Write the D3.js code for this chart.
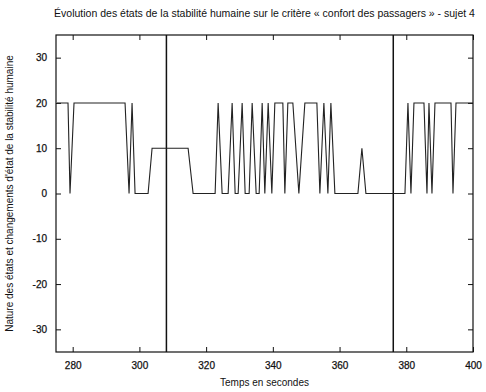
<!DOCTYPE html>
<html>
<head>
<meta charset="utf-8">
<script src="https://cdn.jsdelivr.net/npm/d3@7"></script>
<style>
  body { margin: 0; background: #fff; }
  text { font-family: "Liberation Sans", Arial, sans-serif; fill: #111; }
</style>
</head>
<body>
<script>
// temps (s) et etat de stabilite
var times = [275.3, 278.6, 279.2, 280.4, 295.7, 296.9, 297.8, 298.7, 302.6, 303.8,
             314.6, 316.1, 322.7, 323.6, 324.8, 326.6, 327.8, 328.7, 329.6, 330.8,
             331.7, 332.9, 333.8, 335.0, 335.9, 336.8, 337.6, 338.6, 339.7, 340.6,
             343.0, 343.6, 344.5, 346.0, 347.8, 349.6, 353.2, 354.1, 355.3, 356.5,
             357.4, 358.6, 365.5, 366.7, 367.9, 379.6, 380.5, 381.4, 382.3, 385.3,
             386.2, 386.8, 387.7, 388.6, 393.4, 394.0, 394.9, 400.0];
var states = [20, 20, 0, 20, 20, 0, 20, 0, 0, 10,
              10, 0, 0, 20, 0, 0, 20, 0, 0, 20,
              0, 0, 20, 0, 0, 20, 0, 20, 0, 20,
              20, 0, 20, 20, 0, 20, 20, 0, 20, 0,
              20, 0, 0, 10, 0, 0, 20, 0, 20, 20,
              0, 20, 0, 20, 20, 0, 20, 20];
var markers = [308.1, 376.1];
var xTicks = [280, 300, 320, 340, 360, 380, 400];
var yTicks = [-30, -20, -10, 0, 10, 20, 30];

var width = 486, height = 392;
var plotLeft = 56, plotRight = 473, plotTop = 35, plotBottom = 352;

var svg = d3.select('body').append('svg')
  .attr('width', width)
  .attr('height', height);

var x = d3.scaleLinear().domain([275, 400]).range([plotLeft, plotRight]);
var y = d3.scaleLinear().domain([-35, 35]).range([plotBottom, plotTop]);

// axes, ticks vers l'interieur comme gnuplot
function styleAxis(g) {
  g.select('.domain').remove();
  g.selectAll('line').attr('stroke', '#111').attr('stroke-width', 1);
  g.selectAll('text').attr('font-size', 10).attr('fill', '#111')
    .attr('stroke', '#111').attr('stroke-width', 0.25);
}
var plain = function(d) { return String(d); };

svg.append('g')
  .attr('transform', 'translate(0,' + plotBottom + ')')
  .call(d3.axisBottom(x).tickValues(xTicks).tickSizeInner(-5).tickPadding(10).tickFormat(plain))
  .call(styleAxis);
svg.append('g')
  .attr('transform', 'translate(0,' + plotTop + ')')
  .call(d3.axisTop(x).tickValues(xTicks).tickSizeInner(-5).tickFormat(''))
  .call(styleAxis);
svg.append('g')
  .attr('transform', 'translate(' + plotLeft + ',0)')
  .call(d3.axisLeft(y).tickValues(yTicks).tickSizeInner(-5).tickPadding(9).tickFormat(plain))
  .call(styleAxis);
svg.append('g')
  .attr('transform', 'translate(' + plotRight + ',0)')
  .call(d3.axisRight(y).tickValues(yTicks).tickSizeInner(-5).tickFormat(''))
  .call(styleAxis);

// cadre
svg.append('rect')
  .attr('x', plotLeft).attr('y', plotTop)
  .attr('width', plotRight - plotLeft).attr('height', plotBottom - plotTop)
  .attr('fill', 'none')
  .attr('stroke', '#111')
  .attr('stroke-width', 1.2);

// traits verticaux
svg.selectAll('.marker')
  .data(markers)
  .enter()
  .append('line')
    .attr('x1', function(d) { return x(d); })
    .attr('x2', function(d) { return x(d); })
    .attr('y1', plotTop)
    .attr('y2', plotBottom)
    .attr('stroke', '#111')
    .attr('stroke-width', 1.5);

// courbe
var pts = times.map(function(t, i) { return [t, states[i]]; });
var line = d3.line()
  .x(function(d) { return x(d[0]); })
  .y(function(d) { return y(d[1]); });

svg.append('path')
  .datum(pts)
  .attr('d', line)
  .attr('fill', 'none')
  .attr('stroke', '#222')
  .attr('stroke-width', 1.1);

// titres
svg.append('text')
  .attr('x', (plotLeft + plotRight) / 2)
  .attr('y', 17)
  .attr('text-anchor', 'middle')
  .attr('font-size', 10.5)
  .text('Évolution des états de la stabilité humaine sur le critère « confort des passagers » - sujet 4');

svg.append('text')
  .attr('x', (plotLeft + plotRight) / 2)
  .attr('y', 386)
  .attr('text-anchor', 'middle')
  .attr('font-size', 10)
  .text('Temps en secondes');

svg.append('text')
  .attr('transform', 'translate(13,' + ((plotTop + plotBottom) / 2) + ') rotate(-90)')
  .attr('text-anchor', 'middle')
  .attr('font-size', 10)
  .text("Nature des états et changements d'état de la stabilité humaine");
</script>
</body>
</html>
